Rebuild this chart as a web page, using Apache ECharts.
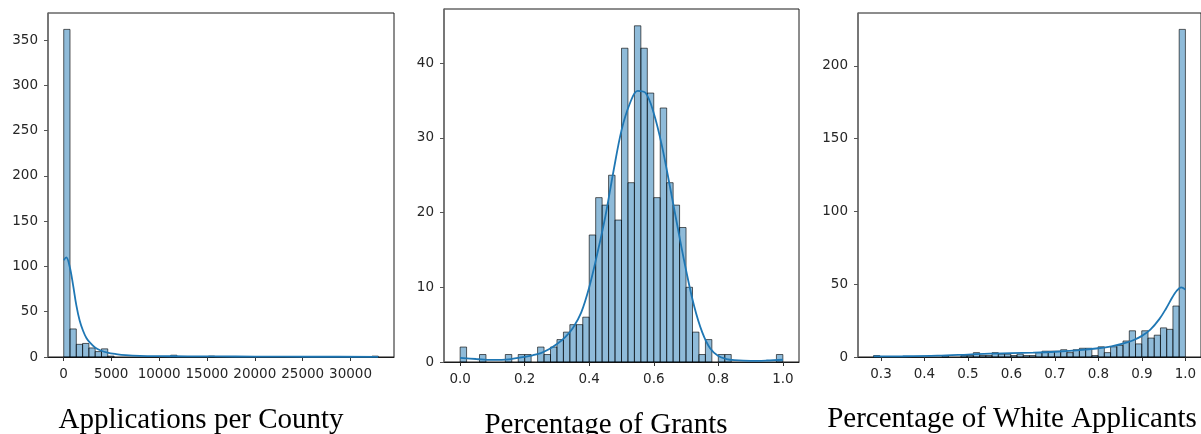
<!DOCTYPE html>
<html>
<head>
<meta charset="utf-8">
<script src="https://cdn.jsdelivr.net/npm/echarts@6/dist/echarts.min.js"></script>
<style>
  html, body { margin: 0; padding: 0; background: #ffffff; }
  #chart { width: 1201px; height: 434px; }
</style>
</head>
<body>
<div id="chart"></div>
<script>
// ---- Applications per County (50 bins) ----
const appsRange = [30, 32900];
const appsCounts = [362, 31, 14, 15, 10, 6, 9, 1, 0, 0,
                    0, 0, 0, 0, 0, 0, 0, 2, 0, 0,
                    0, 0, 0, 1, 0, 0, 0, 0, 0, 0,
                    0, 0, 0, 0, 0, 0, 0, 0, 0, 0,
                    0, 0, 0, 0, 0, 0, 0, 0, 0, 1];
const appsKde = [[30, 107], [300, 110], [650, 100], [1000, 80], [1350, 57], [1700, 40],
                 [2050, 29], [2400, 21], [2800, 15.5], [3300, 10.5], [3900, 7.2], [4600, 4.8],
                 [5500, 3.2], [6500, 2], [8000, 1.2], [10000, 0.9], [13000, 0.8], [16000, 0.7],
                 [20000, 0.45], [26000, 0.3], [32900, 0.2]];
const appsXTicks = [0, 5000, 10000, 15000, 20000, 25000, 30000];
const appsYTicks = [0, 50, 100, 150, 200, 250, 300, 350];

// ---- Percentage of Grants (50 bins) ----
const grantsRange = [0, 1];
const grantsCounts = [2, 0, 0, 1, 0, 0, 0, 1, 0, 1,
                      1, 0, 2, 1, 2, 3, 4, 5, 5, 6,
                      17, 22, 21, 25, 19, 42, 24, 45, 42, 36,
                      22, 34, 24, 21, 18, 10, 4, 1, 3, 0,
                      1, 1, 0, 0, 0, 0, 0, 0, 0, 1];
const grantsKde = [[0, 0.55], [0.05, 0.4], [0.1, 0.28], [0.15, 0.35], [0.2, 0.7], [0.225, 0.9],
                   [0.25, 1.2], [0.275, 1.7], [0.3, 2.4], [0.325, 3.3], [0.35, 4.6], [0.375, 6.6],
                   [0.4, 10], [0.425, 14.5], [0.45, 19.5], [0.475, 25.5], [0.5, 31], [0.525, 34.5],
                   [0.55, 36.3], [0.575, 36], [0.6, 33.3], [0.625, 29], [0.65, 23.5], [0.675, 17.8],
                   [0.7, 12.3], [0.725, 7.5], [0.75, 4], [0.775, 1.8], [0.8, 0.8], [0.825, 0.4],
                   [0.85, 0.25], [0.9, 0.15], [0.95, 0.2], [1.0, 0.3]];
const grantsXTicks = [0, 0.2, 0.4, 0.6, 0.8, 1.0];
const grantsYTicks = [0, 10, 20, 30, 40];

// ---- Percentage of White Applicants (50 bins) ----
const whiteRange = [0.283, 1.0];
const whiteCounts = [1, 0, 0, 0, 0, 0, 0, 0, 0, 0,
                     0, 1, 0, 0, 1, 1, 3, 1, 1, 3,
                     2, 2, 1, 2, 1, 1, 3, 4, 4, 4,
                     5, 3, 5, 6, 6, 1, 7, 3, 7, 8,
                     11, 18, 9, 18, 13, 15, 20, 19, 35, 225];
const whiteKde = [[0.283, 0.4], [0.35, 0.5], [0.43, 0.9], [0.5, 1.7], [0.55, 2.3], [0.6, 2.6],
                  [0.65, 3.0], [0.7, 3.6], [0.75, 4.6], [0.8, 6.0], [0.83, 7.3], [0.86, 9.5],
                  [0.88, 11.5], [0.9, 14.5], [0.92, 19], [0.94, 26], [0.955, 33], [0.97, 41],
                  [0.98, 45.5], [0.99, 47.8], [1.0, 46.3]];
const whiteXTicks = [0.3, 0.4, 0.5, 0.6, 0.7, 0.8, 0.9, 1.0];
const whiteYTicks = [0, 50, 100, 150, 200];

const panelTitles = ['Applications per County', 'Percentage of Grants', 'Percentage of White Applicants'];

// ---- styling ----
const BAR_FILL = 'rgba(31,119,180,0.5)';
const BAR_EDGE = 'rgba(0,0,0,0.62)';
const KDE_COLOR = '#1f77b4';
const TEXT_COLOR = '#262626';
const TICK_FONT = 'DejaVu Sans';

// bins as [left edge, right edge, count]
function toBins(range, counts) {
  const w = (range[1] - range[0]) / counts.length;
  return counts.map((c, i) => [range[0] + i * w, range[0] + (i + 1) * w, c]);
}

function histItem(params, api) {
  const n = api.value(2);
  if (!n) return null;
  const p0 = api.coord([api.value(0), n]);
  const p1 = api.coord([api.value(1), 0]);
  return {
    type: 'rect',
    shape: { x: p0[0], y: p0[1], width: p1[0] - p0[0], height: p1[1] - p0[1] },
    style: { fill: BAR_FILL, stroke: BAR_EDGE, lineWidth: 1 }
  };
}

function xAxis(idx, min, max, ticks, fmt) {
  return {
    type: 'value', gridIndex: idx, min: min, max: max,
    splitLine: { show: false },
    axisLine: { show: true, onZero: false, lineStyle: { color: '#1a1a1a', width: 1 } },
    axisTick: { show: true, customValues: ticks, length: 4, lineStyle: { color: '#333', width: 1 } },
    axisLabel: { customValues: ticks, formatter: fmt, margin: 10, color: TEXT_COLOR,
                 fontFamily: TICK_FONT, fontSize: 13.5 }
  };
}

function yAxis(idx, max, ticks) {
  return {
    type: 'value', gridIndex: idx, min: 0, max: max,
    splitLine: { show: false },
    axisLine: { show: true, onZero: false, lineStyle: { color: '#707070', width: 1.5 } },
    axisTick: { show: true, customValues: ticks, length: 4, lineStyle: { color: '#555', width: 1 } },
    axisLabel: { customValues: ticks, margin: 10, color: TEXT_COLOR,
                 fontFamily: TICK_FONT, fontSize: 13.5 }
  };
}

const grid = (left, top, width, height) => ({
  left: left, top: top, width: width, height: height,
  show: true, borderColor: '#1a1a1a', borderWidth: 1, backgroundColor: '#fff'
});

const fmt1 = v => v.toFixed(1);
const fmt0 = v => String(v);

function kdeSeries(idx, data) {
  return {
    type: 'line', xAxisIndex: idx, yAxisIndex: idx, data: data,
    smooth: 0.35, showSymbol: false, symbol: 'none',
    lineStyle: { color: KDE_COLOR, width: 1.8 }, z: 5, silent: true
  };
}

function histSeries(idx, bins) {
  return {
    type: 'custom', xAxisIndex: idx, yAxisIndex: idx, data: bins,
    encode: { x: [0, 1], y: 2 }, renderItem: histItem, z: 3, silent: true
  };
}

const titleText = (text, cx, y) => ({
  type: 'text', x: cx, y: y,
  style: { text: text, fill: '#000', font: '29px "Liberation Serif"', align: 'center', verticalAlign: 'middle' }
});

const chart = echarts.init(document.getElementById('chart'), null, { renderer: 'canvas' });
chart.setOption({
  animation: false,
  backgroundColor: '#ffffff',
  grid: [
    grid(48, 13, 346, 344),
    grid(444, 9, 355, 353),
    grid(858, 13, 346, 344)
  ],
  xAxis: [
    xAxis(0, -1613, 34543, appsXTicks, fmt0),
    xAxis(1, -0.05, 1.05, grantsXTicks, fmt1),
    xAxis(2, 0.24715, 1.03585, whiteXTicks, fmt1)
  ],
  yAxis: [
    yAxis(0, 380.1, appsYTicks),
    yAxis(1, 47.25, grantsYTicks),
    yAxis(2, 236.25, whiteYTicks)
  ],
  series: [
    histSeries(0, toBins(appsRange, appsCounts)),
    kdeSeries(0, appsKde),
    histSeries(1, toBins(grantsRange, grantsCounts)),
    kdeSeries(1, grantsKde),
    histSeries(2, toBins(whiteRange, whiteCounts)),
    kdeSeries(2, whiteKde)
  ],
  graphic: [
    titleText(panelTitles[0], 201, 420),
    titleText(panelTitles[1], 606, 425),
    titleText(panelTitles[2], 1012, 419)
  ]
});
</script>
</body>
</html>
